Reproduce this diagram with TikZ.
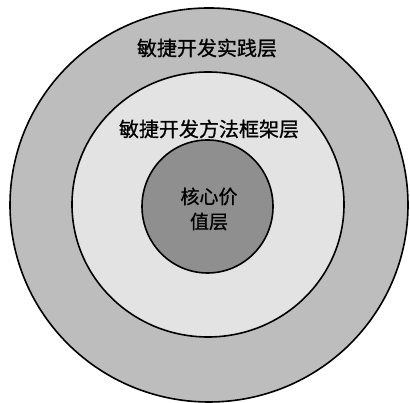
\documentclass[tikz,border=0pt]{standalone}
\usepackage{fontspec}
\newfontfamily\cjk[FakeBold=0.9]{Noto Sans CJK SC}
\definecolor{outerfill}{gray}{0.74}
\definecolor{midfill}{gray}{0.89}
\definecolor{innerfill}{gray}{0.56}
\tikzset{
  ring/.style={draw=black, line width=1.6pt},
  lbl/.style={font=\cjk\fontsize{20}{24}\selectfont, text=black, inner sep=0pt, align=center}
}
\begin{document}
\begin{tikzpicture}[x=1pt,y=1pt]
\useasboundingbox (0,0) rectangle (410,403);
\fill[white] (0,0) rectangle (410,403);
\path[ring, fill=outerfill] (209,198) ellipse [x radius=199, y radius=197];
\path[ring, fill=midfill] (208,198.5) ellipse [x radius=136, y radius=132.5];
\path[ring, fill=innerfill] (207.5,196.5) ellipse [x radius=65.5, y radius=66.5];
\node[lbl] (outerlbl) at (207,355) {敏捷开发实践层};
\node[lbl] (midlbl) at (209,274) {敏捷开发方法框架层};
\node[lbl, font=\cjk\fontsize{19}{25}\selectfont] (innerlbl) at (209,194) {核心价\\值层};
\end{tikzpicture}
\end{document}
